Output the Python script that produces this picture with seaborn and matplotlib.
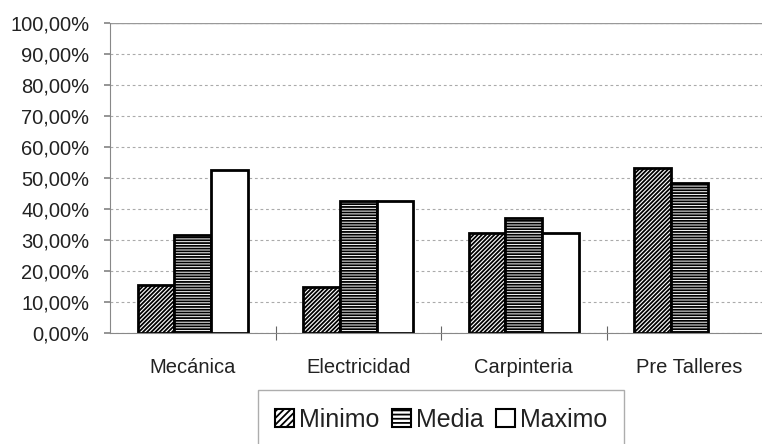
import numpy as np
import pandas as pd
import seaborn as sns
import matplotlib.pyplot as plt
from matplotlib.ticker import FuncFormatter, FixedLocator

# data (percent)
categorias = ['Mecánica', 'Electricidad', 'Carpinteria', 'Pre Talleres']
minimo = [15.5, 14.8, 32.3, 53.2]
media = [31.6, 42.6, 37.1, 48.4]
maximo = [52.6, 42.6, 32.3, np.nan]
series = ['Minimo', 'Media', 'Maximo']

df = pd.DataFrame({
    'categoria': categorias * 3,
    'serie': ['Minimo'] * 4 + ['Media'] * 4 + ['Maximo'] * 4,
    'valor': minimo + media + maximo,
})

sns.set_theme(style='white')
plt.rcParams['font.family'] = ['Liberation Sans', 'DejaVu Sans']
plt.rcParams['hatch.linewidth'] = 1.3
plt.rcParams['hatch.color'] = 'black'

fig = plt.figure(figsize=(7.62, 4.44), dpi=100)
ax = fig.add_axes([110 / 762, 1 - 333 / 444, 662 / 762, 310 / 444])

sns.barplot(data=df, x='categoria', y='valor', hue='serie', order=categorias,
            hue_order=series, palette=['white', 'white', 'white'], width=0.667,
            edgecolor='black', linewidth=2, saturation=1, ax=ax, legend=True)

hatches = ['////////', '------', '']
for cont, h in zip(ax.containers, hatches):
    for bar in cont:
        bar.set_hatch(h)
        bar.set_edgecolor('black')

ax.set_ylim(0, 100)
ax.set_xlim(-0.5, 3.5)
ax.set_yticks(np.arange(0, 101, 10))
ax.yaxis.set_major_formatter(FuncFormatter(lambda v, p: f'{v:.2f}%'.replace('.', ',')))
ax.set_xlabel('')
ax.set_ylabel('')

# dashed gridlines
ax.yaxis.grid(True, linestyle=(0, (2.5, 2.5)), color='#aaaaaa', linewidth=0.8)
ax.axhline(100, color='#999999', linewidth=1)
ax.set_axisbelow(True)

for s in ['top', 'right']:
    ax.spines[s].set_visible(False)
ax.spines['left'].set_color('#888888')
ax.spines['left'].set_linewidth(0.8)
ax.spines['bottom'].set_color('#888888')
ax.spines['bottom'].set_linewidth(0.8)

ax.tick_params(axis='y', labelsize=14.5, labelcolor='#222222', length=4,
               color='#888888', left=True, pad=11)
ax.tick_params(axis='x', which='major', labelsize=14.5, labelcolor='#222222',
               length=0, pad=18)
ax.xaxis.set_minor_locator(FixedLocator([0.5, 1.5, 2.5]))
ax.tick_params(axis='x', which='minor', bottom=True, direction='inout',
               length=10, color='#666666', width=0.8)

handles, labels = ax.get_legend_handles_labels()
for hnd, h in zip(handles, hatches):
    hnd.set_hatch(h.replace('////////', '/////').replace('------', '----'))
    hnd.set_edgecolor('black')
    hnd.set_linewidth(1.5)
ax.legend(handles, labels, loc='upper center', ncol=3,
          bbox_to_anchor=(441 / 762, 1 - 390 / 444), bbox_transform=fig.transFigure,
          fontsize=18, frameon=True, fancybox=False, edgecolor='#999999',
          handlelength=0.75, handleheight=0.75, handletextpad=0.2,
          columnspacing=0.5, borderpad=0.7, borderaxespad=0, labelcolor='#222222')

fig.savefig('out.png', dpi=100)
